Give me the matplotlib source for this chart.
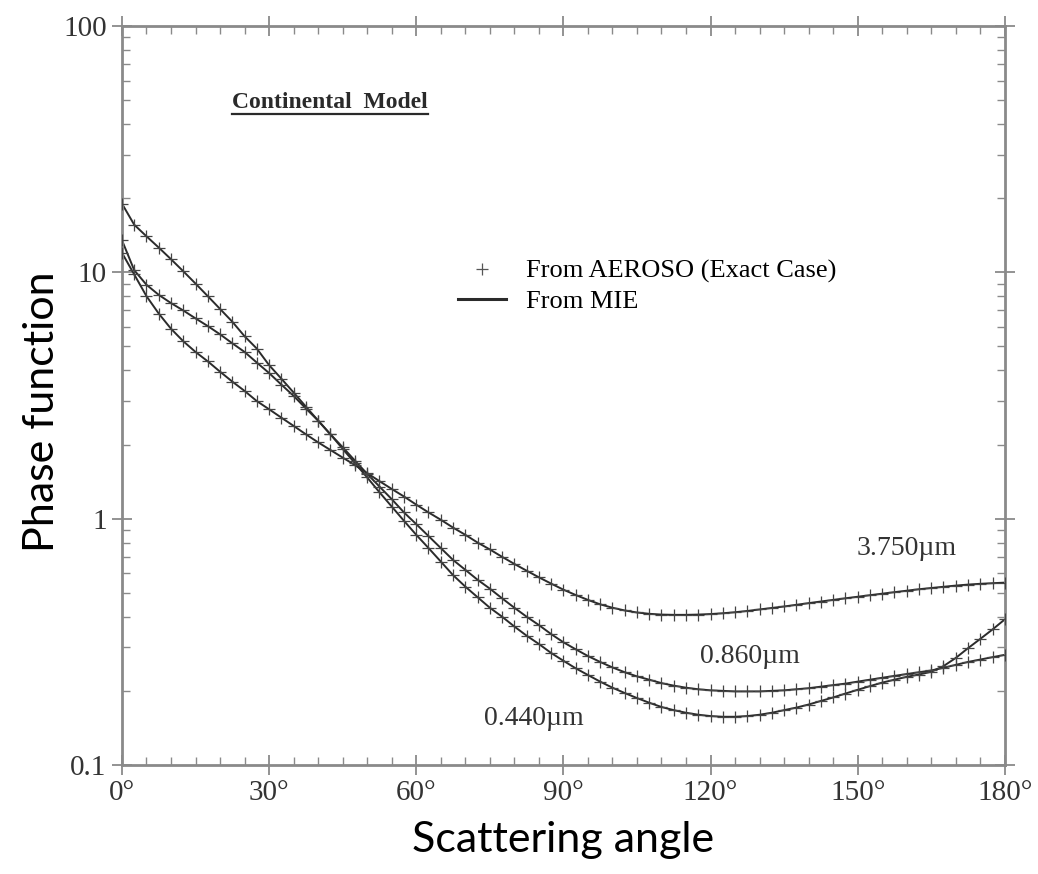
import matplotlib
matplotlib.use("Agg")
import matplotlib.pyplot as plt
from matplotlib.lines import Line2D
from matplotlib.ticker import MultipleLocator, LogLocator, NullFormatter

# scattering angle (deg), one AEROSO point every 2.5 deg
angle = [0, 2.5, 5, 7.5, 10, 12.5, 15, 17.5, 20, 22.5, 25, 27.5, 30, 32.5, 35, 37.5,
         40, 42.5, 45, 47.5, 50, 52.5, 55, 57.5, 60, 62.5, 65, 67.5, 70, 72.5, 75, 77.5,
         80, 82.5, 85, 87.5, 90, 92.5, 95, 97.5, 100, 102.5, 105, 107.5, 110, 112.5, 115,
         117.5, 120, 122.5, 125, 127.5, 130, 132.5, 135, 137.5, 140, 142.5, 145, 147.5,
         150, 152.5, 155, 157.5, 160, 162.5, 165, 167.5, 170, 172.5, 175, 177.5, 180]

p_0440 = [19.0, 15.6, 14.0, 12.6, 11.3, 10.1, 9.0, 8.0, 7.1, 6.3, 5.5, 4.9, 4.2, 3.7, 3.25, 2.85,
          2.5, 2.2, 1.92, 1.68, 1.47, 1.28, 1.12, 0.98, 0.86, 0.76, 0.67, 0.59, 0.53, 0.48, 0.435, 0.40,
          0.365, 0.335, 0.31, 0.285, 0.265, 0.247, 0.232, 0.218, 0.206, 0.196, 0.187, 0.179, 0.172, 0.167, 0.163,
          0.160, 0.158, 0.157, 0.157, 0.158, 0.160, 0.163, 0.167, 0.171, 0.176, 0.182, 0.188, 0.195,
          0.202, 0.209, 0.216, 0.222, 0.228, 0.233, 0.239, 0.252, 0.272, 0.298, 0.325, 0.355, 0.39]

p_0860 = [13.5, 10.2, 8.9, 8.1, 7.5, 7.0, 6.5, 6.05, 5.6, 5.15, 4.75, 4.3, 3.9, 3.5, 3.15, 2.8,
          2.5, 2.2, 1.95, 1.72, 1.52, 1.35, 1.2, 1.06, 0.95, 0.85, 0.76, 0.68, 0.62, 0.565, 0.52, 0.475,
          0.435, 0.40, 0.37, 0.34, 0.315, 0.295, 0.277, 0.262, 0.249, 0.238, 0.229, 0.222, 0.215, 0.210, 0.206,
          0.203, 0.201, 0.200, 0.199, 0.199, 0.199, 0.200, 0.201, 0.203, 0.205, 0.208, 0.211, 0.214,
          0.218, 0.222, 0.226, 0.230, 0.234, 0.238, 0.242, 0.248, 0.255, 0.262, 0.268, 0.274, 0.28]

p_3750 = [12.0, 9.8, 8.0, 6.8, 5.9, 5.25, 4.75, 4.35, 3.95, 3.6, 3.3, 3.0, 2.78, 2.57, 2.38, 2.2,
          2.04, 1.9, 1.77, 1.65, 1.53, 1.42, 1.32, 1.23, 1.14, 1.06, 0.99, 0.92, 0.86, 0.80, 0.75, 0.70,
          0.655, 0.615, 0.578, 0.545, 0.515, 0.49, 0.468, 0.449, 0.435, 0.424, 0.416, 0.411, 0.408, 0.407, 0.407,
          0.408, 0.410, 0.413, 0.417, 0.422, 0.428, 0.434, 0.440, 0.447, 0.454, 0.461, 0.468, 0.475,
          0.482, 0.489, 0.496, 0.503, 0.510, 0.517, 0.523, 0.529, 0.535, 0.540, 0.544, 0.547, 0.55]

curves = [("0.440µm", p_0440), ("0.860µm", p_0860), ("3.750µm", p_3750)]
# label anchor (angle, value) for each curve
label_pos = {"0.440µm": (84, 0.155), "0.860µm": (128, 0.275), "3.750µm": (160, 0.76)}

xticks = [0, 30, 60, 90, 120, 150, 180]
xticklabels = ["0°", "30°", "60°", "90°", "120°", "150°", "180°"]
yticks = [0.1, 1, 10, 100]
yticklabels = ["0.1", "1", "10", "100"]

serif = "Liberation Serif"
sans = "Lato"
ink = "#2b2b2b"
frame = "#8a8a8a"

fig = plt.figure(figsize=(10.38, 8.74), dpi=100)
ax = fig.add_axes([0.1175, 0.1247, 0.8505, 0.8456])

for name, vals in curves:
    ax.plot(angle, vals, color=ink, lw=1.4, zorder=2)
    ax.plot(angle, vals, ls="none", marker="+", ms=9, mew=0.9, color="#444444", zorder=3)
    ax.text(label_pos[name][0], label_pos[name][1], name, fontsize=20, family=serif,
            color="#333333", ha="center", va="center")

ax.set_yscale("log")
ax.set_xlim(0, 180)
ax.set_ylim(0.1, 100)

ax.set_xticks(xticks)
ax.set_xticklabels(xticklabels, family=serif, fontsize=21, color="#333333")
ax.set_yticks(yticks)
ax.set_yticklabels(yticklabels, family=serif, fontsize=21, color="#333333")
ax.xaxis.set_minor_locator(MultipleLocator(5))
ax.yaxis.set_minor_locator(LogLocator(base=10, subs=range(2, 10)))
ax.yaxis.set_minor_formatter(NullFormatter())

ax.tick_params(which="major", direction="inout", length=14, width=1.3, color=frame,
               top=True, right=True, pad=4)
ax.tick_params(which="minor", direction="in", length=6, width=1.0, color=frame,
               top=True, right=True)
for s in ax.spines.values():
    s.set_color(frame)
    s.set_linewidth(2.0)

# legend
h_plus = Line2D([], [], ls="none", marker="+", ms=9, mew=0.9, color="#555555")
h_line = Line2D([], [], color=ink, lw=2.2)
ax.legend([h_plus, h_line], ["From AEROSO (Exact Case)", "From MIE"],
          loc="upper left", bbox_to_anchor=(0.381, 0.684), frameon=False,
          prop={"family": serif, "size": 19}, handlelength=1.8, handletextpad=0.75,
          labelspacing=0.25, borderpad=0, borderaxespad=0)

# title inside the plot, bold and underlined
title = ax.text(0.125, 0.889, "Continental  Model", transform=ax.transAxes,
                family=serif, fontsize=17, fontweight="bold", color="#2a2a2a",
                ha="left", va="baseline")

ax.set_xlabel("Scattering angle", family=sans, fontsize=31, color="black", va="center")
ax.xaxis.set_label_coords(0.5, -0.102)
ax.set_ylabel("Phase function", family=sans, fontsize=31, color="black", va="center")
ax.yaxis.set_label_coords(-0.091, 0.478)

fig.canvas.draw()
bb = title.get_window_extent(renderer=fig.canvas.get_renderer())
fig.add_artist(Line2D([bb.x0, bb.x1], [bb.y0 - 1, bb.y0 - 1], transform=None,
                      color="#2a2a2a", lw=1.6))

fig.savefig("out.png", dpi=100, facecolor="white")
